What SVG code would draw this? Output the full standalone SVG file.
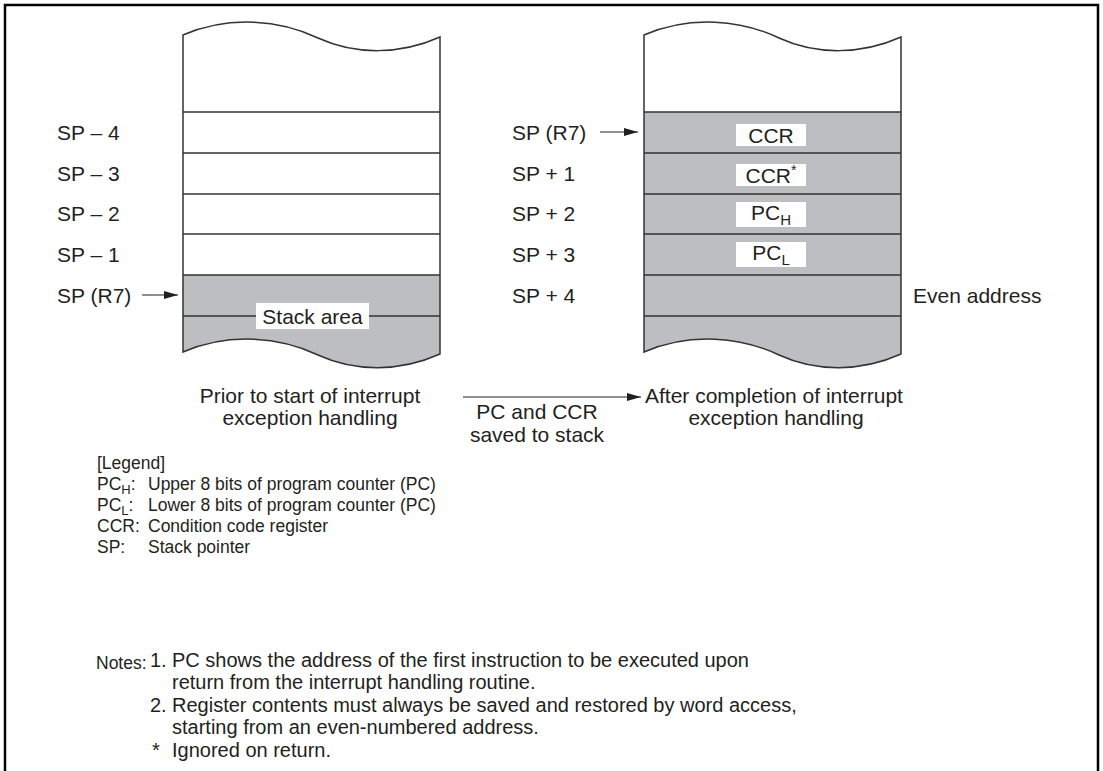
<svg xmlns="http://www.w3.org/2000/svg" width="1103" height="771" viewBox="0 0 1103 771">
<style>
text{font-family:"Liberation Sans",Arial,sans-serif;font-size:21px;fill:#231f20}
.mid{text-anchor:middle}
.nt{font-size:20px}
.lg{font-size:17.5px}
.nh{font-size:17.5px}
.sub{font-size:14px}
.ln{stroke:#333;stroke-width:1.5;fill:none}
.grey{fill:#bdbec1}
.lbl{fill:#fff}
.con{stroke:#231f20;stroke-width:1.2;fill:none}
</style>
<defs>
<marker id="ah" viewBox="0 0 14 8" refX="14" refY="4" markerWidth="14" markerHeight="8" markerUnits="userSpaceOnUse" orient="auto">
<path d="M0,0 L14,4 L0,8 Z" fill="#231f20"/>
</marker>
</defs>
<rect width="1103" height="771" fill="#fff"/>
<path d="M5,771 V5 H1098 V771" fill="none" stroke="#000" stroke-width="2.5"/>

<g id="stack-before">
<path class="grey" d="M183,275 H440 V354 C400,372 355,372 318,355 C280,337 230,332 183,352 Z"/>
<path class="ln" d="M183,112 H440 M183,153 H440 M183,194 H440 M183,234 H440 M183,275 H440 M183,316 H440"/>
<path class="ln" d="M183,35 C230,15 280,20 318,38 C355,55 400,55 440,37 L440,354 C400,372 355,372 318,355 C280,337 230,332 183,352 Z"/>
<rect class="lbl" x="256" y="303" width="113" height="26"/>
<text class="mid" x="312.5" y="323.5">Stack area</text>
</g>

<g id="stack-after">
<path class="grey" d="M644,112 H901 V354 C861,372 816,372 779,355 C741,337 691,332 644,352 Z"/>
<path class="ln" d="M644,112 H901 M644,153 H901 M644,194 H901 M644,234 H901 M644,275 H901 M644,316 H901"/>
<path class="ln" d="M644,35 C691,15 741,20 779,38 C816,55 861,55 901,37 L901,354 C861,372 816,372 779,355 C741,337 691,332 644,352 Z"/>
<rect class="lbl" x="736" y="124" width="70" height="22"/>
<text class="mid" x="771" y="142.5">CCR</text>
<rect class="lbl" x="736" y="164" width="70" height="22"/>
<text class="mid" x="771" y="182.5">CCR<tspan dy="-8" class="sub">*</tspan></text>
<rect class="lbl" x="736" y="202" width="70" height="25"/>
<text class="mid" x="771" y="219.5">PC<tspan dy="5" font-size="15">H</tspan></text>
<rect class="lbl" x="736" y="242" width="70" height="25"/>
<text class="mid" x="771" y="259.5">PC<tspan dy="5" font-size="15">L</tspan></text>
</g>

<g id="left-labels">
<text x="57" y="140">SP – 4</text>
<text x="57" y="181">SP – 3</text>
<text x="57" y="221">SP – 2</text>
<text x="57" y="262">SP – 1</text>
<text x="57" y="303">SP (R7)</text>
</g>

<g id="right-labels">
<text x="512" y="140">SP (R7)</text>
<text x="512" y="181">SP + 1</text>
<text x="512" y="221">SP + 2</text>
<text x="512" y="262">SP + 3</text>
<text x="512" y="303">SP + 4</text>
<text x="913" y="303">Even address</text>
</g>

<g id="connectors">
<line class="con" x1="142" y1="295" x2="178" y2="295" marker-end="url(#ah)"/>
<line class="con" x1="600" y1="132" x2="638" y2="132" marker-end="url(#ah)"/>
<line class="con" x1="463" y1="397" x2="641" y2="397" marker-end="url(#ah)"/>
</g>

<g id="captions">
<text class="mid" x="310" y="403">Prior to start of interrupt</text>
<text class="mid" x="310" y="425">exception handling</text>
<text class="mid" x="537" y="419">PC and CCR</text>
<text class="mid" x="537" y="442">saved to stack</text>
<text x="645" y="403">After completion of interrupt</text>
<text class="mid" x="776" y="425">exception handling</text>
</g>

<g id="legend">
<text class="lg" x="97" y="469">[Legend]</text>
<text class="lg" x="97" y="490">PC<tspan dy="4" font-size="13">H</tspan><tspan dy="-4">:</tspan></text>
<text class="lg" x="148" y="490">Upper 8 bits of program counter (PC)</text>
<text class="lg" x="97" y="511">PC<tspan dy="4" font-size="13">L</tspan><tspan dy="-4">:</tspan></text>
<text class="lg" x="148" y="511">Lower 8 bits of program counter (PC)</text>
<text class="lg" x="97" y="532">CCR:</text>
<text class="lg" x="148" y="532">Condition code register</text>
<text class="lg" x="97" y="553">SP:</text>
<text class="lg" x="148" y="553">Stack pointer</text>
</g>

<g id="notes">
<text class="nh" x="96" y="669">Notes:</text>
<text class="nt" x="150" y="667">1.<tspan x="172">PC shows the address of the first instruction to be executed upon</tspan></text>
<text class="nt" x="172" y="689">return from the interrupt handling routine.</text>
<text class="nt" x="150" y="712">2.<tspan x="172">Register contents must always be saved and restored by word access,</tspan></text>
<text class="nt" x="172" y="734">starting from an even-numbered address.</text>
<text class="nt" x="152" y="757">*</text>
<text class="nt" x="172" y="757">Ignored on return.</text>
</g>
</svg>
